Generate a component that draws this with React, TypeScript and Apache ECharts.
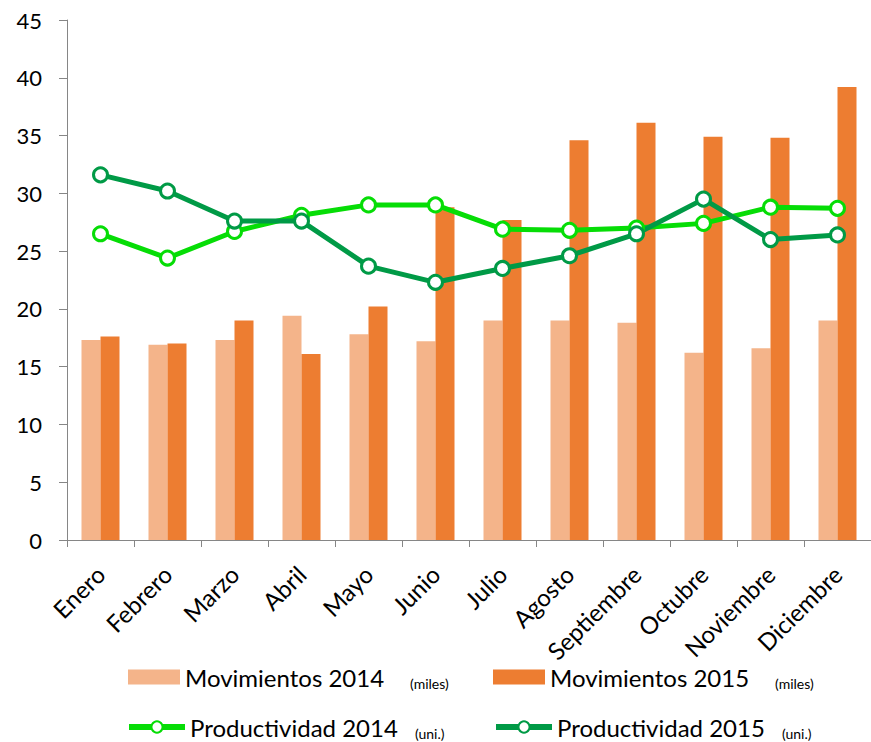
import React, { useEffect, useRef } from "react";
import * as echarts from "echarts";

const months = ["Enero", "Febrero", "Marzo", "Abril", "Mayo", "Junio", "Julio", "Agosto", "Septiembre", "Octubre", "Noviembre", "Diciembre"];
const mov2014 = [17.3, 16.9, 17.3, 19.4, 17.8, 17.2, 19.0, 19.0, 18.8, 16.2, 16.6, 19.0];
const mov2015 = [17.6, 17.0, 19.0, 16.1, 20.2, 28.8, 27.7, 34.6, 36.1, 34.9, 34.8, 39.2];
const prod2014 = [26.5, 24.4, 26.7, 28.1, 29.0, 29.0, 26.9, 26.8, 27.0, 27.4, 28.8, 28.7];
const prod2015 = [31.6, 30.2, 27.6, 27.6, 23.7, 22.3, 23.5, 24.6, 26.5, 29.5, 26.0, 26.4];
const yTicks = [0, 5, 10, 15, 20, 25, 30, 35, 40, 45];
const units: Record<string, string> = {
  "Movimientos 2014": "(miles)",
  "Movimientos 2015": "(miles)",
  "Productividad 2014": "(uni.)",
  "Productividad 2015": "(uni.)",
};

const FONT = "Lato";
const C_LIGHT = "#f4b48a";
const C_DARK = "#ed7d31";
const G_BRIGHT = "#06dd06";
const G_DARK = "#009a46";

export default function App() {
  const ref = useRef<HTMLDivElement>(null);
  useEffect(() => {
    if (!ref.current) return;
    const chart = echarts.init(ref.current, null, { renderer: "svg" });
    const rich = (bw: number) => ({
      a: { fontFamily: FONT, fontSize: 24, color: "#000", width: 225, lineHeight: 26 },
      b: { fontFamily: FONT, fontSize: 14, color: "#000", width: bw, lineHeight: 16, verticalAlign: "bottom" },
    });
    const fmt = (name: string) => `{a|${name}}{b|${units[name]}}`;
    const lineSeries = (name: string, data: number[], color: string) => ({
      name,
      type: "line",
      data,
      z: 5,
      symbol: "circle",
      symbolSize: 14,
      lineStyle: { color, width: 5 },
      itemStyle: { color: "#fff", borderColor: color, borderWidth: 3 },
    });
    chart.setOption({
      animation: false,
      textStyle: { fontFamily: FONT },
      grid: { left: 67, right: -3, top: 20, bottom: 202, containLabel: false },
      legend: [
        {
          data: ["Movimientos 2014", "Movimientos 2015"],
          left: 128,
          top: 665,
          padding: 0,
          icon: "rect",
          itemWidth: 52,
          itemHeight: 15,
          itemGap: 33,
          formatter: fmt,
          textStyle: { rich: rich(50) },
        },
        {
          data: ["Productividad 2014", "Productividad 2015"],
          left: 126,
          top: 715,
          padding: 0,
          itemWidth: 56,
          itemHeight: 14,
          itemGap: 33,
          lineStyle: { width: 6 },
          formatter: fmt,
          textStyle: { rich: rich(45) },
        },
      ],
      xAxis: {
        type: "category",
        data: months,
        axisLine: { lineStyle: { color: "#868686", width: 1 } },
        axisTick: { show: true, length: 7, lineStyle: { color: "#868686" } },
        axisLabel: {
          rotate: 45,
          interval: 0,
          fontFamily: FONT,
          fontSize: 24,
          color: "#000",
          margin: 30,
        },
      },
      yAxis: {
        type: "value",
        min: yTicks[0],
        max: yTicks[yTicks.length - 1],
        interval: 5,
        splitLine: { show: false },
        axisLine: { show: true, lineStyle: { color: "#868686", width: 1 } },
        axisTick: { show: true, length: 8, lineStyle: { color: "#868686" } },
        axisLabel: { fontFamily: FONT, fontSize: 22, color: "#000", margin: 25 },
      },
      series: [
        { name: "Movimientos 2014", type: "bar", data: mov2014, barWidth: 19, barGap: "0%", itemStyle: { color: C_LIGHT } },
        { name: "Movimientos 2015", type: "bar", data: mov2015, barWidth: 19, barGap: "0%", itemStyle: { color: C_DARK } },
        lineSeries("Productividad 2014", prod2014, G_BRIGHT),
        lineSeries("Productividad 2015", prod2015, G_DARK),
      ],
    });
    return () => chart.dispose();
  }, []);
  return <div ref={ref} style={{ position: "fixed", left: 0, top: 0, width: 871, height: 742, background: "#fff" }} />;
}
